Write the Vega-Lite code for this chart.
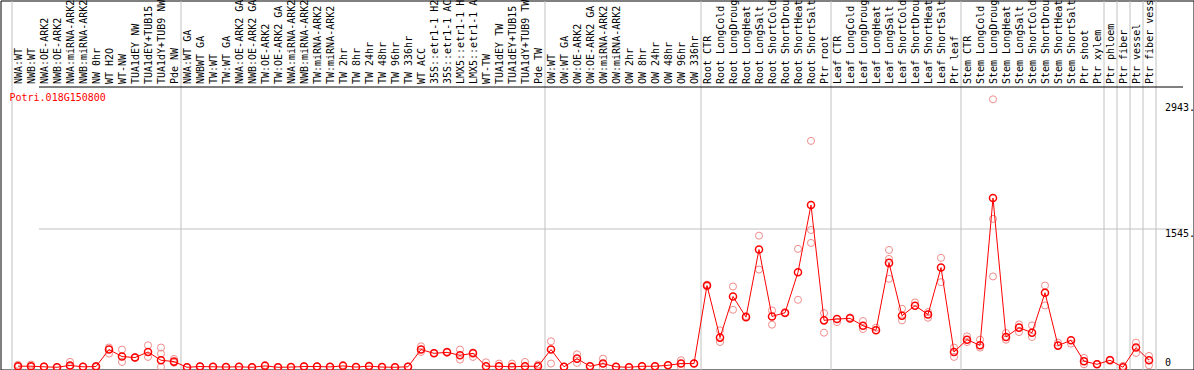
{
  "$schema": "https://vega.github.io/schema/vega-lite/v6.json",
  "width": 1193,
  "height": 369,
  "autosize": {"type": "none"},
  "padding": {"left": 0.5, "top": 0.5, "right": 0.5, "bottom": 0.5},
  "background": "white",
  "config": {"view": {"stroke": "black", "strokeWidth": 1}, "font": "DejaVu Sans Mono"},
  "title": {"text": "Potri.018G150800", "orient": "bottom", "anchor": "start", "frame": "group", "offset": -281, "dx": 9, "color": "#ff0000", "font": "DejaVu Sans Mono", "fontSize": 10, "fontWeight": "normal"},
  "data": {"values": [
    {"sample": "NWA:WT", "mean": 12, "r1": 28, "r2": 5},
    {"sample": "NWB:WT", "mean": 12, "r1": 30, "r2": 5},
    {"sample": "NWA:OE-ARK2", "mean": 5, "r1": 10},
    {"sample": "NWB:OE-ARK2", "mean": 0, "r1": 3},
    {"sample": "NWA:miRNA-ARK2", "mean": 20, "r1": 60, "r2": 8},
    {"sample": "NWB:miRNA-ARK2", "mean": 5, "r1": 8},
    {"sample": "NW 0hr", "mean": 8, "r1": 15, "r2": 3},
    {"sample": "WT H2O", "mean": 197, "r1": 220, "r2": 152},
    {"sample": "WT-NW", "mean": 119, "r1": 197, "r2": 59},
    {"sample": "TUA1dEY NW", "mean": 108, "r1": 112, "r2": 105},
    {"sample": "TUA1dEY+TUB15 NW", "mean": 170, "r1": 244, "r2": 115},
    {"sample": "TUA1dY+TUB9 NW", "mean": 78, "r1": 219, "r2": 152, "r3": 5},
    {"sample": "Pde NW", "mean": 63, "r1": 92, "r2": 50},
    {"sample": "NWA:WT GA", "mean": 0, "r1": 2},
    {"sample": "NWBWT GA", "mean": 8, "r1": 12},
    {"sample": "TW:WT", "mean": 5, "r1": 6},
    {"sample": "TW:WT GA", "mean": 3, "r1": 4},
    {"sample": "NWA:OE-ARK2 GA", "mean": 5, "r1": 6},
    {"sample": "NWB:OE-ARK2 GA", "mean": 0, "r1": 1},
    {"sample": "TW:OE-ARK2", "mean": 15, "r1": 25},
    {"sample": "TW:OE-ARK2 GA", "mean": 0, "r1": 1},
    {"sample": "NWA:miRNA-ARK2 GA", "mean": 2, "r1": 3},
    {"sample": "NWB:miRNA-ARK2 GA", "mean": 8, "r1": 12},
    {"sample": "TW:miRNA-ARK2", "mean": 8, "r1": 9},
    {"sample": "TW:miRNA-ARK2 GA", "mean": 4, "r1": 5},
    {"sample": "TW 2hr", "mean": 15, "r1": 25},
    {"sample": "TW 8hr", "mean": 2, "r1": 3},
    {"sample": "TW 24hr", "mean": 12, "r1": 20},
    {"sample": "TW 48hr", "mean": 2, "r1": 3},
    {"sample": "TW 96hr", "mean": 0, "r1": 1},
    {"sample": "TW 336hr", "mean": 5, "r1": 10},
    {"sample": "WT ACC", "mean": 197, "r1": 233, "r2": 170},
    {"sample": "35S::etr1-1 H2O", "mean": 155, "r1": 160},
    {"sample": "35S::etr1-1 ACC", "mean": 166, "r1": 175},
    {"sample": "LMX5::etr1-1 H2O", "mean": 133, "r1": 197, "r2": 85},
    {"sample": "LMX5::etr1-1 ACC", "mean": 155, "r1": 115, "r2": 165},
    {"sample": "WT-TW", "mean": 11, "r1": 55},
    {"sample": "TUA1dEY TW", "mean": 11, "r1": 41},
    {"sample": "TUA1dEY+TUB15 TW", "mean": 5, "r1": 41},
    {"sample": "TUA1dY+TUB9 TW", "mean": 11, "r1": 59},
    {"sample": "Pde TW", "mean": 11, "r1": 30},
    {"sample": "OW:WT", "mean": 197, "r1": 289, "r2": 41},
    {"sample": "OW:WT GA", "mean": 5, "r1": 6},
    {"sample": "OW:OE-ARK2", "mean": 96, "r1": 144, "r2": 48},
    {"sample": "OW:OE-ARK2 GA", "mean": 11, "r1": 12},
    {"sample": "OW:miRNA-ARK2", "mean": 41, "r1": 96, "r2": 0},
    {"sample": "OW:miRNA-ARK2 GA", "mean": 5, "r1": 6},
    {"sample": "OW 2hr", "mean": 0, "r1": 1},
    {"sample": "OW 8hr", "mean": 11, "r1": 12},
    {"sample": "OW 24hr", "mean": 11, "r1": 12},
    {"sample": "OW 48hr", "mean": 22, "r1": 24},
    {"sample": "OW 96hr", "mean": 41, "r1": 78, "r2": 5},
    {"sample": "OW 336hr", "mean": 41, "r1": 45},
    {"sample": "Root CTR", "mean": 910, "r1": 900, "r2": 920},
    {"sample": "Root LongCold", "mean": 330, "r1": 281, "r2": 411},
    {"sample": "Root LongDrought", "mean": 788, "r1": 899, "r2": 640},
    {"sample": "Root LongHeat", "mean": 558, "r1": 570},
    {"sample": "Root LongSalt", "mean": 1310, "r1": 1465, "r2": 1088},
    {"sample": "Root ShortCold", "mean": 566, "r1": 633, "r2": 474},
    {"sample": "Root ShortDrought", "mean": 607, "r1": 600},
    {"sample": "Root ShortHeat", "mean": 1058, "r1": 1318, "r2": 751},
    {"sample": "Root ShortSalt", "mean": 1806, "r1": 2520, "r2": 1528, "r3": 1384},
    {"sample": "Ptr root", "mean": 522, "r1": 603, "r2": 385},
    {"sample": "Leaf CTR", "mean": 537, "r1": 503},
    {"sample": "Leaf LongCold", "mean": 544, "r1": 555},
    {"sample": "Leaf LongDrought", "mean": 463, "r1": 514, "r2": 426},
    {"sample": "Leaf LongHeat", "mean": 411, "r1": 440},
    {"sample": "Leaf LongSalt", "mean": 1162, "r1": 1306, "r2": 1206, "r3": 984},
    {"sample": "Leaf ShortCold", "mean": 574, "r1": 651, "r2": 522},
    {"sample": "Leaf ShortDrought", "mean": 685, "r1": 722},
    {"sample": "Leaf ShortHeat", "mean": 588, "r1": 614, "r2": 551},
    {"sample": "Leaf ShortSalt", "mean": 1110, "r1": 1218, "r2": 947},
    {"sample": "Ptr leaf", "mean": 170, "r1": 219, "r2": 115},
    {"sample": "Stem CTR", "mean": 307, "r1": 344, "r2": 281},
    {"sample": "Stem LongCold", "mean": 244, "r1": 307, "r2": 219},
    {"sample": "Stem LongDrought", "mean": 1884, "r1": 2983, "r2": 1652, "r3": 1011},
    {"sample": "Stem LongHeat", "mean": 337, "r1": 381, "r2": 307},
    {"sample": "Stem LongSalt", "mean": 441, "r1": 477, "r2": 392},
    {"sample": "Stem ShortCold", "mean": 385, "r1": 466, "r2": 337},
    {"sample": "Stem ShortDrought", "mean": 829, "r1": 910, "r2": 688},
    {"sample": "Stem ShortHeat", "mean": 241, "r1": 274},
    {"sample": "Stem ShortSalt", "mean": 300, "r1": 263},
    {"sample": "Ptr shoot", "mean": 67, "r1": 104, "r2": 33},
    {"sample": "Ptr xylem", "mean": 33, "r1": 36},
    {"sample": "Ptr phloem", "mean": 78, "r1": 85},
    {"sample": "Ptr fiber", "mean": 0, "r1": 15},
    {"sample": "Ptr vessel", "mean": 219, "r1": 274, "r2": 159},
    {"sample": "Ptr fiber vessel", "mean": 78, "r1": 126, "r2": 22}
  ]},
  "encoding": {
    "x": {
      "field": "sample", "type": "nominal", "sort": null,
      "scale": {"range": [11, 1155], "paddingInner": 0, "paddingOuter": 0},
      "axis": {
        "orient": "top", "title": null, "domain": false, "ticks": false,
        "labelAngle": -90, "labelAlign": "left", "labelBaseline": "middle",
        "labelPadding": -83, "labelOverlap": false, "labelBound": false, "labelFlush": false,
        "labelFont": "DejaVu Sans Mono", "labelFontSize": 10, "labelColor": "black", "labelLimit": 300,
        "tickBand": "extent",
        "grid": true, "gridColor": "#c0c0c0", "gridWidth": 1,
        "gridOpacity": {"condition": {"test": "datum.extra || datum.index == 1 || indexof(['Pde NW','Pde TW','OW 336hr','Ptr root','Ptr leaf','Ptr xylem','Ptr phloem','Ptr fiber','Ptr vessel','Ptr fiber vessel'], datum.value) >= 0", "value": 1}, "value": 0}
      }
    }
  },
  "layer": [
    {
      "transform": [{"fold": ["r1", "r2", "r3"], "as": ["rep", "value"]}, {"filter": "isValid(datum.value)"}],
      "mark": {"type": "point", "shape": "circle", "filled": false, "color": "#f08c8c", "size": 50, "strokeWidth": 1, "opacity": 1},
      "encoding": {
        "y": {
          "field": "value", "type": "quantitative", "title": null,
          "scale": {"domain": [-25, 4083], "nice": false, "zero": false},
          "axis": {
            "orient": "right", "offset": -29, "title": null, "domain": false, "ticks": false,
            "values": [0, 1545, 2943, 3125], "format": "d",
            "labelExpr": "datum.value == 0 ? '0' : datum.value == 3125 ? '' : datum.label + '.'",
            "labelPadding": 0, "labelAlign": "left",
            "labelBaseline": {"condition": {"test": "datum.value == 0", "value": "bottom"}, "value": "top"},
            "labelFont": "DejaVu Sans Mono", "labelFontSize": 10, "labelColor": "black",
            "labelFlush": false, "labelBound": false, "labelOverlap": false,
            "grid": true,
            "gridColor": {"condition": {"test": "datum.value == 3125", "value": "black"}, "value": "#c0c0c0"},
            "gridOpacity": {"condition": {"test": "datum.value == 0 || datum.value == 2943", "value": 0}, "value": 1}
          }
        }
      }
    },
    {
      "mark": {"type": "line", "color": "#ff0000", "strokeWidth": 1},
      "encoding": {"y": {"field": "mean", "type": "quantitative", "title": null}}
    },
    {
      "mark": {"type": "point", "shape": "circle", "filled": false, "color": "#ff0000", "size": 50, "strokeWidth": 1.5, "opacity": 1},
      "encoding": {"y": {"field": "mean", "type": "quantitative", "title": null}}
    }
  ]
}
